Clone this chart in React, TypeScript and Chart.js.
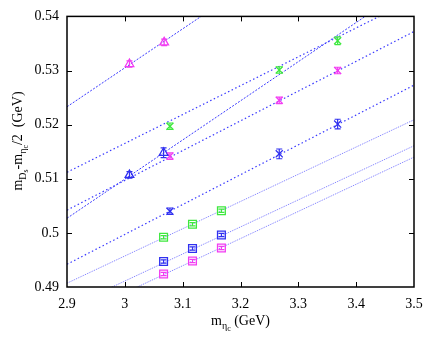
import React, { useEffect, useRef } from "react";
import { Chart, registerables } from "chart.js";

Chart.register(...registerables);

// ---- data ----
const magTriX = [3.008, 3.068];
const magTriY = [0.5312, 0.5352];
const magTriErr = [0.0006, 0.0006];

const blueTriX = [3.008, 3.067];
const blueTriY = [0.5107, 0.5148];
const blueTriErr = [0.0006, 0.0009];

const xSetX = [3.078, 3.267, 3.368];
const greenXY = [0.5197, 0.5301, 0.5355];
const greenXErr = [0.0006, 0.0006, 0.0007];
const magXY = [0.5142, 0.5245, 0.5300];
const magXErr = [0.0006, 0.0006, 0.0006];
const blueXY = [0.5040, 0.5146, 0.5201];
const blueXErr = [0.0006, 0.0009, 0.0009];

const sqX = [3.067, 3.117, 3.167];
const greenSqY = [0.4992, 0.5016, 0.5041];
const blueSqY = [0.4947, 0.4971, 0.4996];
const magSqY = [0.4924, 0.4948, 0.4972];
const sqErr = [0.0003, 0.0003, 0.0003];

// fit lines: value at x = 2.9 and at x = 3.5
const fitX = [2.9, 3.5];
const fitMagTri = [0.5233, 0.5665];
const fitBlueTri = [0.5027, 0.5461];
const fitGreenX = [0.5112, 0.5432];
const fitMagX = [0.5042, 0.5372];
const fitBlueX = [0.4942, 0.5273];
const fitGreenSq = [0.4907, 0.5209];
const fitBlueSq = [0.4861, 0.5161];
const fitMagSq = [0.4839, 0.5140];

const xTickMin = 2.9;
const xTickMax = 3.5;
const yTickMin = 0.49;
const yTickMax = 0.54;

const MAG = "#f23df2";
const GRN = "#3ee83e";
const BLU = "#3030f0";
const LINE = "#3a3aff";
const LINE_LIGHT = "#7a7aff";
const SERIF = "'Liberation Serif', 'Times New Roman', serif";

const pts = (xs: number[], ys: number[]) => xs.map((x, i) => ({ x, y: ys[i] }));

function pointSet(label: string, xs: number[], ys: number[], errs: number[], color: string, style: string, r: number) {
  return {
    label,
    data: pts(xs, ys),
    errs,
    showLine: false,
    pointStyle: style,
    pointRadius: r,
    pointBorderColor: color,
    pointBackgroundColor: "rgba(0,0,0,0)",
    pointBorderWidth: 1.3,
    borderColor: color,
    order: 0,
  };
}

function lineSet(label: string, ys: number[], color: string, dash: number[], w: number) {
  return {
    label,
    data: pts(fitX, ys),
    showLine: true,
    borderColor: color,
    borderWidth: w,
    borderDash: dash,
    pointRadius: 0,
    fill: false,
    order: 1,
  };
}

type Part = { t: string; l: number };

function richWidth(ctx: CanvasRenderingContext2D, parts: Part[]) {
  let w = 0;
  for (const p of parts) {
    ctx.font = `${p.l === 0 ? 14 : p.l === 1 ? 10 : 8}px ${SERIF}`;
    w += ctx.measureText(p.t).width;
  }
  return w;
}

function drawRich(ctx: CanvasRenderingContext2D, parts: Part[], x: number, y: number) {
  let cx = x;
  for (const p of parts) {
    const size = p.l === 0 ? 14 : p.l === 1 ? 10 : 8;
    const off = p.l === 0 ? 0 : p.l === 1 ? 3.5 : 6;
    ctx.font = `${size}px ${SERIF}`;
    ctx.fillText(p.t, cx, y + off);
    cx += ctx.measureText(p.t).width;
  }
}

const framePlugin = {
  id: "frameAndBars",
  afterDatasetsDraw(chart: any) {
    const ctx: CanvasRenderingContext2D = chart.ctx;
    const xs = chart.scales.x;
    const ys = chart.scales.y;
    ctx.save();
    // error bars
    chart.data.datasets.forEach((ds: any) => {
      if (!ds.errs) return;
      ctx.strokeStyle = ds.borderColor;
      ctx.lineWidth = 1.2;
      ds.data.forEach((d: any, j: number) => {
        const px = xs.getPixelForValue(d.x);
        const top = ys.getPixelForValue(d.y + ds.errs[j]);
        const bot = ys.getPixelForValue(d.y - ds.errs[j]);
        ctx.beginPath();
        ctx.moveTo(px, top);
        ctx.lineTo(px, bot);
        ctx.moveTo(px - 3, top);
        ctx.lineTo(px + 3, top);
        ctx.moveTo(px - 3, bot);
        ctx.lineTo(px + 3, bot);
        ctx.stroke();
      });
    });
    ctx.restore();
  },
  afterDraw(chart: any) {
    const ctx: CanvasRenderingContext2D = chart.ctx;
    const a = chart.chartArea;
    const xs = chart.scales.x;
    const ys = chart.scales.y;
    ctx.save();
    ctx.strokeStyle = "#000";
    ctx.lineWidth = 1.5;
    ctx.strokeRect(a.left, a.top, a.right - a.left, a.bottom - a.top);
    ctx.lineWidth = 1;
    ctx.beginPath();
    xs.ticks.forEach((t: any) => {
      const px = Math.round(xs.getPixelForValue(t.value)) + 0.5;
      if (px <= a.left + 1 || px >= a.right - 1) return;
      ctx.moveTo(px, a.bottom);
      ctx.lineTo(px, a.bottom - 5);
      ctx.moveTo(px, a.top);
      ctx.lineTo(px, a.top + 5);
    });
    ys.ticks.forEach((t: any) => {
      const py = Math.round(ys.getPixelForValue(t.value)) + 0.5;
      if (py <= a.top + 1 || py >= a.bottom - 1) return;
      ctx.moveTo(a.left, py);
      ctx.lineTo(a.left + 5, py);
      ctx.moveTo(a.right, py);
      ctx.lineTo(a.right - 5, py);
    });
    ctx.stroke();

    // axis titles
    ctx.fillStyle = "#000";
    ctx.textBaseline = "alphabetic";
    ctx.textAlign = "left";
    const xt: Part[] = [
      { t: "m", l: 0 },
      { t: "η", l: 1 },
      { t: "c", l: 2 },
      { t: " (GeV)", l: 0 },
    ];
    const xw = richWidth(ctx, xt);
    drawRich(ctx, xt, (a.left + a.right) / 2 - xw / 2, 325);

    const yt: Part[] = [
      { t: "m", l: 0 },
      { t: "D", l: 1 },
      { t: "s", l: 2 },
      { t: "-m", l: 0 },
      { t: "η", l: 1 },
      { t: "c", l: 2 },
      { t: "/2  (GeV)", l: 0 },
    ];
    const yw = richWidth(ctx, yt);
    ctx.translate(22, 141);
    ctx.rotate(-Math.PI / 2);
    drawRich(ctx, yt, -yw / 2, 0);
    ctx.restore();
  },
};

export default function App() {
  const ref = useRef<HTMLCanvasElement>(null);
  useEffect(() => {
    document.body.style.margin = "0";
    const chart = new Chart(ref.current as HTMLCanvasElement, {
      type: "scatter",
      data: {
        datasets: [
          pointSet("magTri", magTriX, magTriY, magTriErr, MAG, "triangle", 5),
          pointSet("blueTri", blueTriX, blueTriY, blueTriErr, BLU, "triangle", 5),
          pointSet("greenX", xSetX, greenXY, greenXErr, GRN, "crossRot", 5),
          pointSet("magX", xSetX, magXY, magXErr, MAG, "crossRot", 5),
          pointSet("blueX", xSetX, blueXY, blueXErr, BLU, "crossRot", 5),
          pointSet("greenSq", sqX, greenSqY, sqErr, GRN, "rect", 5.5),
          pointSet("blueSq", sqX, blueSqY, sqErr, BLU, "rect", 5.5),
          pointSet("magSq", sqX, magSqY, sqErr, MAG, "rect", 5.5),
          lineSet("fitMagTri", fitMagTri, LINE, [2, 1.5], 1),
          lineSet("fitBlueTri", fitBlueTri, LINE, [2, 1.5], 1),
          lineSet("fitGreenX", fitGreenX, LINE, [1.5, 2.5], 1.2),
          lineSet("fitMagX", fitMagX, LINE, [1.5, 2.5], 1.2),
          lineSet("fitBlueX", fitBlueX, LINE, [1.5, 2.5], 1.2),
          lineSet("fitGreenSq", fitGreenSq, LINE_LIGHT, [1, 1], 1),
          lineSet("fitBlueSq", fitBlueSq, LINE_LIGHT, [1, 1], 1),
          lineSet("fitMagSq", fitMagSq, LINE_LIGHT, [1, 1], 1),
        ] as any,
      },
      options: {
        animation: false,
        responsive: false,
        layout: { padding: { top: 11, right: 22, left: 0, bottom: 0 } },
        plugins: { legend: { display: false }, tooltip: { enabled: false } },
        scales: {
          x: {
            type: "linear",
            min: xTickMin,
            max: xTickMax,
            grid: { display: false, drawTicks: false },
            border: { display: false },
            ticks: {
              stepSize: 0.1,
              color: "#000",
              padding: 9,
              font: { family: SERIF, size: 14 },
              callback: (v: any) => parseFloat(Number(v).toFixed(1)).toString(),
            },
            afterFit: (s: any) => {
              s.height = 54;
            },
          },
          y: {
            type: "linear",
            min: yTickMin,
            max: yTickMax,
            grid: { display: false, drawTicks: false },
            border: { display: false },
            ticks: {
              stepSize: 0.01,
              color: "#000",
              padding: 8,
              font: { family: SERIF, size: 14 },
              callback: (v: any) => parseFloat(Number(v).toFixed(2)).toString(),
            },
            afterFit: (s: any) => {
              s.width = 67;
            },
          },
        },
      },
      plugins: [framePlugin],
    });
    return () => chart.destroy();
  }, []);
  return (
    <div style={{ position: "absolute", left: 0, top: 0 }}>
      <canvas ref={ref} width={436} height={341} />
    </div>
  );
}
